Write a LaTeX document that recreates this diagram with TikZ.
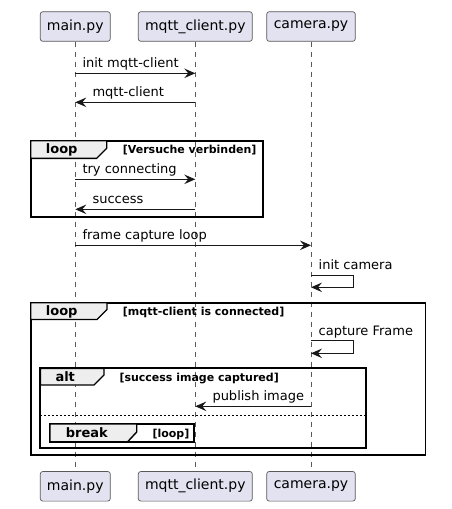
\documentclass[tikz,border=0pt]{standalone}
\usepackage{fontspec}
\setmainfont{DejaVu Sans}
\usetikzlibrary{arrows.meta}
\definecolor{umlfill}{HTML}{E2E2F0}
\definecolor{umlborder}{HTML}{181818}
\definecolor{tabfill}{HTML}{EEEEEE}

\begin{document}
\begin{tikzpicture}[x=1pt, y=-1pt,
    participant/.style={draw=black!65, fill=umlfill, rounded corners=2.5pt, line width=0.7pt,
      minimum height=29.6pt, inner sep=0pt, font=\fontsize{14}{16}\selectfont},
    lifeline/.style={draw=black!65, line width=0.6pt, dash pattern=on 5pt off 5pt},
    msg/.style={draw=umlborder, line width=1pt, -{Stealth[length=11pt,width=9.5pt,inset=4pt]}},
    msglabel/.style={anchor=base west, inner sep=0pt, font=\fontsize{13}{15}\selectfont},
    fragment/.style={draw=black, line width=1.8pt},
    fragtab/.style={draw=black, line width=1.4pt, fill=tabfill},
    fraglabel/.style={anchor=base west, inner sep=0pt, font=\bfseries\fontsize{13}{15}\selectfont},
    guard/.style={anchor=base west, inner sep=0pt, font=\bfseries\fontsize{11}{13}\selectfont},
    elseline/.style={draw=black, line width=0.9pt, dash pattern=on 2pt off 2pt}]
  \useasboundingbox (0,0) rectangle (452,509);

  % Teilnehmer oben und unten
  \node[participant, minimum width=70pt] (main) at (75.3,26.5) {main.py};
  \node[participant, minimum width=114pt] (mqtt) at (195.3,26.5) {mqtt\_client.py};
  \node[participant, minimum width=88.6pt] (cam) at (311,26.5) {camera.py};
  \node[participant, minimum width=70pt] (main2) at (75.3,486.3) {main.py};
  \node[participant, minimum width=114pt] (mqtt2) at (195.3,486.3) {mqtt\_client.py};
  \node[participant, minimum width=88.6pt] (cam2) at (311,486.3) {camera.py};

  % Lebenslinien
  \draw[lifeline] (main) -- (main2);
  \draw[lifeline] (mqtt) -- (mqtt2);
  \draw[lifeline] (cam) -- (cam2);

  % Zeilen der Nachrichten
  \coordinate (r1) at (0,73.3);
  \coordinate (r2) at (0,102.3);
  \coordinate (r3) at (0,179.3);
  \coordinate (r4) at (0,209.3);
  \coordinate (r5) at (0,245.3);
  \coordinate (r6) at (0,275);
  \coordinate (r6b) at (0,287.3);
  \coordinate (r7) at (0,340.7);
  \coordinate (r7b) at (0,353.3);
  \coordinate (r8) at (0,406.3);

  % loop: Versuche verbinden
  \draw[fragment] (30.7,140.7) rectangle (262.7,217.3);
  \draw[fragtab] (30.7,140.7) -- (106.7,140.7) -- (106.7,148.3) -- (96.7,158.3) -- (30.7,158.3) -- cycle;
  \node[fraglabel] (loop1) at (45.7,153.5) {loop};
  \node[guard] (guard1) at (122.7,153.8) {[Versuche verbinden]};

  % loop: mqtt-client is connected
  \draw[fragment] (30.7,302.7) rectangle (425.5,454.7);
  \draw[fragtab] (30.7,302.7) -- (107,302.7) -- (107,309.5) -- (97,319.5) -- (30.7,319.5) -- cycle;
  \node[fraglabel] (loop2) at (45.7,315.3) {loop};
  \node[guard] (guard2) at (122.7,315.6) {[mqtt-client is connected]};

  % alt
  \draw[fragment] (40.3,368.3) rectangle (365.7,447.7);
  \draw[fragtab] (40.3,368.3) -- (104,368.3) -- (104,375) -- (94,385) -- (40.3,385) -- cycle;
  \node[fraglabel] (alt) at (55.3,381) {alt};
  \node[guard] (guard3) at (119.3,381.3) {[success image captured]};
  \draw[elseline] (40.3,415.3) -- (365.7,415.3);

  % break
  \draw[fragment] (50,424) rectangle (194,441.7);
  \draw[fragtab] (50,424) -- (136.7,424) -- (136.7,432) -- (127.7,441.7) -- (50,441.7) -- cycle;
  \node[fraglabel] (brk) at (65.7,437.3) {break};
  \node[guard] (guard4) at (152.3,437.6) {[loop]};

  % Nachrichten
  \draw[msg] (main |- r1) -- (mqtt |- r1);
  \path (main |- r1) ++(7,-5.5) node[msglabel] (m1) {init mqtt-client};
  \draw[msg] (mqtt |- r2) -- (main |- r2);
  \path (main |- r2) ++(17,-5.5) node[msglabel] (m2) {mqtt-client};
  \draw[msg] (main |- r3) -- (mqtt |- r3);
  \path (main |- r3) ++(7,-5.5) node[msglabel] (m3) {try connecting};
  \draw[msg] (mqtt |- r4) -- (main |- r4);
  \path (main |- r4) ++(17,-5.5) node[msglabel] (m4) {success};
  \draw[msg] (main |- r5) -- (cam |- r5);
  \path (main |- r5) ++(7,-5.5) node[msglabel] (m5) {frame capture loop};
  \draw[msg] (cam |- r6) -- ++(42.5,0) |- (cam |- r6b);
  \path (cam |- r6) ++(7.5,-5.5) node[msglabel] (m6) {init camera};
  \draw[msg] (cam |- r7) -- ++(42.5,0) |- (cam |- r7b);
  \path (cam |- r7) ++(7.5,-5.5) node[msglabel] (m7) {capture Frame};
  \draw[msg] (cam |- r8) -- (mqtt |- r8);
  \path (mqtt |- r8) ++(17,-5.5) node[msglabel] (m8) {publish image};
\end{tikzpicture}
\end{document}
